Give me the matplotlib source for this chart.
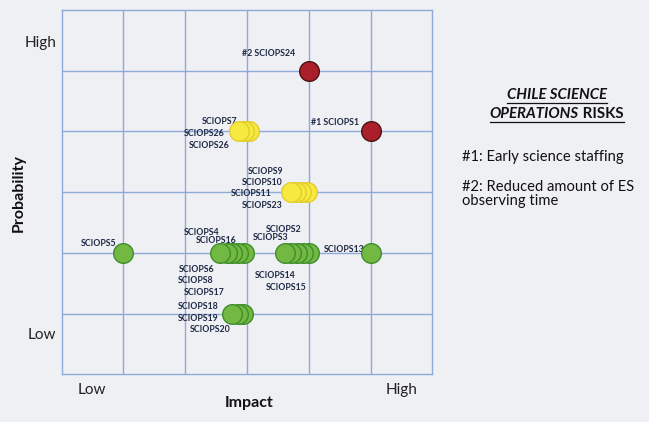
import matplotlib.pyplot as plt
from matplotlib.lines import Line2D

# risk clusters: impact (x), probability (y)
red_x = [4.0, 5.0]
red_y = [5.0, 4.0]

yellow_x = [2.87, 2.95, 3.04, 3.71, 3.79, 3.88, 3.97]
yellow_y = [4, 4, 4, 3, 3, 3, 3]

green_x = [1.0,
           2.57, 2.67, 2.76, 2.85, 2.95,
           3.62, 3.71, 3.81, 3.90, 4.0,
           5.0,
           2.76, 2.85, 2.94]
green_y = [2,
           2, 2, 2, 2, 2,
           2, 2, 2, 2, 2,
           2,
           1, 1, 1]

risk_names = ["#2 SCIOPS24", "#1 SCIOPS1", "SCIOPS7", "SCIOPS26", "SCIOPS26",
              "SCIOPS9", "SCIOPS10", "SCIOPS11", "SCIOPS23",
              "SCIOPS4", "SCIOPS16", "SCIOPS2", "SCIOPS3", "SCIOPS5", "SCIOPS13",
              "SCIOPS6", "SCIOPS8", "SCIOPS17", "SCIOPS14", "SCIOPS15",
              "SCIOPS18", "SCIOPS19", "SCIOPS20"]
# where each name sits (data units, text centre)
name_pos = [(3.35, 5.29), (4.43, 4.15), (2.55, 4.16), (2.30, 3.97), (2.39, 3.77),
            (3.30, 3.34), (3.25, 3.16), (3.06, 2.97), (3.25, 2.78),
            (2.27, 2.34), (2.50, 2.20), (3.59, 2.39), (3.39, 2.25), (0.60, 2.16), (4.58, 2.05),
            (2.18, 1.73), (2.17, 1.54), (2.31, 1.35), (3.45, 1.62), (3.64, 1.43),
            (2.21, 1.11), (2.21, 0.92), (2.40, 0.73)]

x_tick_pos = [0.49, 5.50]
y_tick_pos = [0.68, 5.48]
tick_names = ["Low", "High"]

notes = ["#1: Early science staffing", "#2: Reduced amount of ES", "observing time"]

plt.rcParams['font.family'] = ['Lato', 'DejaVu Sans']
bg = '#eff0f3'
grid_c = '#8eaad8'
navy = '#1e2a46'
W, H = 649, 422

fig = plt.figure(figsize=(6.49, 4.22), dpi=100, facecolor=bg)
ax = fig.add_axes([0.0951, 0.1130, 0.571, 0.8633], facecolor=bg)
ax.set_xlim(0, 6)
ax.set_ylim(0, 6)

for v in range(1, 6):
    ax.axvline(v, color=grid_c, lw=1.0, zorder=1)
    ax.axhline(v, color=grid_c, lw=1.0, zorder=1)
for s in ax.spines.values():
    s.set_color(grid_c)
    s.set_linewidth(1.0)

# draw right to left so the left-most circle of each stack is on top
def stack(xs, ys, face, edge):
    pts = sorted(zip(xs, ys), key=lambda p: -p[0])
    ax.scatter([p[0] for p in pts], [p[1] for p in pts], s=200,
               c=face, edgecolors=edge, linewidths=1.0, zorder=4)

stack(green_x, green_y, '#72b843', '#3e8e2c')
stack(yellow_x, yellow_y, '#f6e940', '#e3cc2c')
stack(red_x, red_y, '#ab1f2a', '#4a1414')

for name, (px, py) in zip(risk_names, name_pos):
    ax.text(px, py, name, fontsize=6.3, fontweight='bold', color=navy,
            ha='center', va='center', zorder=3)

ax.set_xticks(x_tick_pos, tick_names)
ax.set_yticks(y_tick_pos, tick_names)
ax.tick_params(length=0, labelsize=11, colors='#222222')
ax.tick_params(axis='x', pad=6)
ax.tick_params(axis='y', pad=4)

# axis titles
fig.text(249 / W, 1 - 403 / H, "Impact", fontsize=11.5, fontweight='bold',
         color='#111111', ha='center', va='center')
fig.text(19 / W, 1 - 193 / H, "Probability", fontsize=11.5, fontweight='bold',
         color='#111111', ha='center', va='center', rotation=90)

# side panel with the key risks
t1 = fig.text(556.7 / W, 1 - 95 / H, "CHILE SCIENCE", fontsize=10.8, fontweight='bold',
              style='italic', ha='center', va='center', color='#111111')
t2 = fig.text(0, 1 - 114.3 / H, "OPERATIONS", fontsize=10.8, fontweight='bold',
              style='italic', ha='left', va='center', color='#111111')
t3 = fig.text(0, 1 - 114.3 / H, " RISKS", fontsize=10.8, fontweight='bold',
              ha='left', va='center', color='#111111')
fig.canvas.draw()
r = fig.canvas.get_renderer()
w2 = t2.get_window_extent(r).width
w3 = t3.get_window_extent(r).width
x0 = 556.7 - (w2 + w3) / 2
t2.set_x(x0 / W)
t3.set_x((x0 + w2) / W)
for left, right, yc in [(None, None, 95), (x0, x0 + w2 + w3, 114.3)]:
    if left is None:
        bb = t1.get_window_extent(r)
        left, right = bb.x0, bb.x1
    yl = 1 - (yc + 8) / H
    fig.add_artist(Line2D([left / W, right / W], [yl, yl], color='#111111', lw=0.9))

for txt, yc in zip(notes, [157.3, 186.7, 201.0]):
    fig.text(461.7 / W, 1 - yc / H, txt, fontsize=10.6, ha='left', va='center', color='#111111')

fig.savefig('out.png', dpi=100, facecolor=bg)
